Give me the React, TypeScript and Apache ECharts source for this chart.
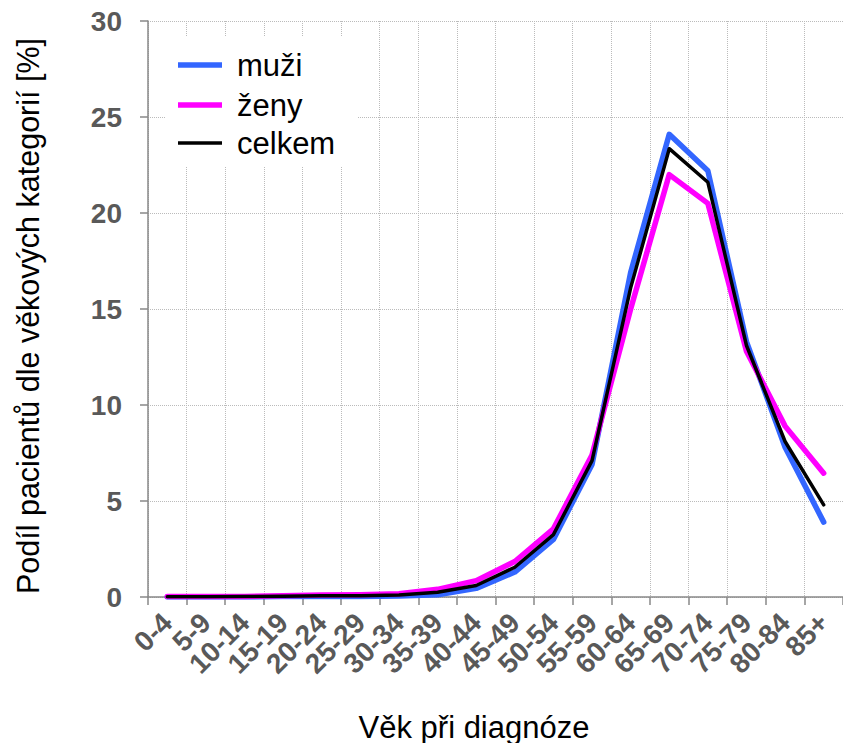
import React, { useEffect, useRef } from "react";
import * as echarts from "echarts";

const categories = [
  "0-4", "5-9", "10-14", "15-19", "20-24", "25-29", "30-34", "35-39", "40-44",
  "45-49", "50-54", "55-59", "60-64", "65-69", "70-74", "75-79", "80-84", "85+",
];
const muzi = [0, 0, 0, 0.02, 0.03, 0.03, 0.05, 0.12, 0.45, 1.3, 3.0, 6.9, 16.9, 24.1, 22.2, 13.3, 7.8, 3.9];
const zeny = [0.02, 0.02, 0.03, 0.06, 0.1, 0.12, 0.17, 0.4, 0.85, 1.85, 3.55, 7.4, 15.0, 22.0, 20.5, 12.8, 8.9, 6.45];
const celkem = [0.01, 0.01, 0.02, 0.04, 0.06, 0.07, 0.1, 0.25, 0.6, 1.55, 3.25, 7.1, 16.1, 23.35, 21.6, 13.1, 8.1, 4.8];
const yTicks = { min: 0, max: 30, interval: 5 };
const seriesNames = ["muži", "ženy", "celkem"];
const seriesColors = ["#3366ff", "#ff00ff", "#000000"];
const seriesWidths = [5.5, 5.5, 3.5];
const yName = "Podíl pacientů dle věkových kategorií [%]";
const xName = "Věk při diagnóze";

const FONT = "'Liberation Sans', Arial, sans-serif";

export default function App() {
  const ref = useRef<HTMLDivElement>(null);
  useEffect(() => {
    if (!ref.current) return;
    const chart = echarts.init(ref.current, undefined, { renderer: "svg" });
    const data = [muzi, zeny, celkem];
    const legendYs = [65, 105, 143];
    chart.setOption({
      animation: false,
      backgroundColor: "#ffffff",
      textStyle: { fontFamily: FONT },
      grid: { left: 148, top: 21, width: 697, height: 576, containLabel: false },
      xAxis: {
        type: "category",
        data: categories,
        boundaryGap: true,
        axisLine: { show: true, lineStyle: { color: "#888888", width: 1.5 } },
        axisTick: { show: true, length: 8, interval: 0, lineStyle: { color: "#888888", width: 1.5 } },
        splitLine: { show: true, interval: 0, lineStyle: { type: "dotted", color: "#bbbbbb", width: 1 } },
        axisLabel: {
          interval: 0,
          rotate: 45,
          fontSize: 28,
          fontWeight: "bold",
          color: "#595959",
          fontFamily: FONT,
          margin: 21,
        },
      },
      yAxis: {
        type: "value",
        min: yTicks.min,
        max: yTicks.max,
        interval: yTicks.interval,
        axisLine: { show: true, lineStyle: { color: "#888888", width: 1.5 } },
        axisTick: { show: true, length: 8, lineStyle: { color: "#888888", width: 1.5 } },
        splitLine: { show: true, lineStyle: { type: "dotted", color: "#bbbbbb", width: 1 } },
        axisLabel: {
          fontSize: 28,
          fontWeight: "bold",
          color: "#595959",
          fontFamily: FONT,
          margin: 26,
        },
      },
      series: seriesNames.map((name, i) => ({
        name,
        type: "line",
        data: data[i],
        showSymbol: false,
        symbol: "none",
        lineStyle: { color: seriesColors[i], width: seriesWidths[i], cap: "round", join: "round" },
        itemStyle: { color: seriesColors[i] },
        z: 2 + i,
      })),
      graphic: [
        {
          type: "rect",
          z: 10,
          shape: { x: 165, y: 36, width: 192, height: 130 },
          style: { fill: "#ffffff" },
        },
        ...seriesNames.flatMap((name, i) => [
          {
            type: "line",
            z: 11,
            shape: { x1: 178, y1: legendYs[i], x2: 222, y2: legendYs[i] },
            style: { stroke: seriesColors[i], lineWidth: seriesWidths[i] },
          },
          {
            type: "text",
            z: 11,
            x: 237,
            y: legendYs[i],
            style: {
              text: name,
              fontSize: 31,
              fontFamily: FONT,
              fill: "#000000",
              textAlign: "left",
              textVerticalAlign: "middle",
            },
          },
        ]),
        {
          type: "text",
          z: 11,
          x: 28,
          y: 316,
          rotation: Math.PI / 2,
          style: {
            text: yName,
            fontSize: 30.5,
            fontFamily: FONT,
            fill: "#000000",
            textAlign: "center",
            textVerticalAlign: "middle",
          },
        },
        {
          type: "text",
          z: 11,
          x: 474,
          y: 727,
          style: {
            text: xName,
            fontSize: 31,
            fontFamily: FONT,
            fill: "#000000",
            textAlign: "center",
            textVerticalAlign: "middle",
          },
        },
      ],
    });
    return () => chart.dispose();
  }, []);
  return (
    <div
      ref={ref}
      style={{ position: "fixed", left: 0, top: 0, width: 843, height: 743, background: "#fff" }}
    />
  );
}
